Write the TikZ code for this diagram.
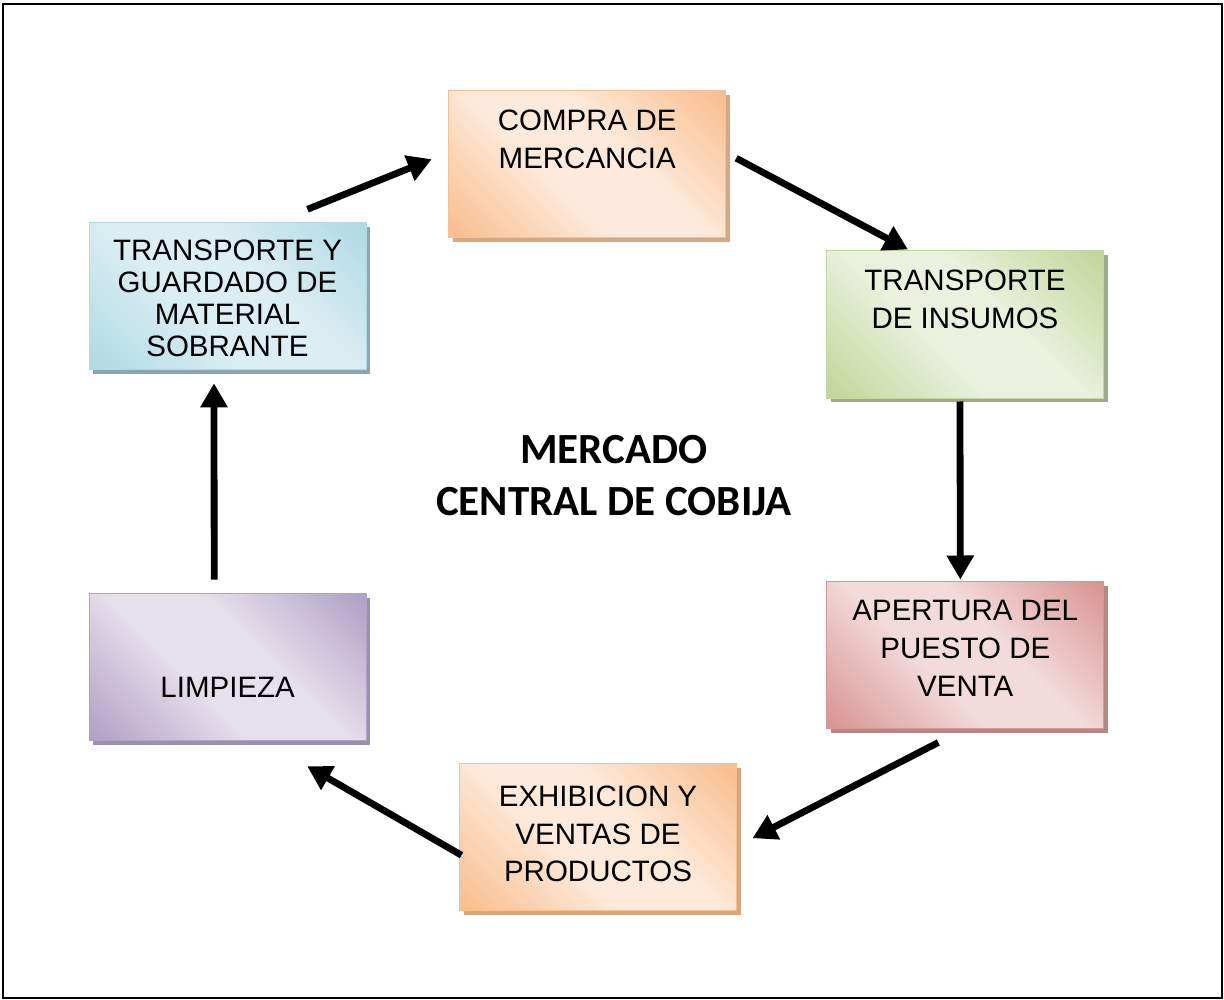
\documentclass[tikz,border=0pt]{standalone}
\usepackage{fontspec}
\setmainfont{Liberation Sans}
\newfontfamily\titlefont{Carlito}
\usetikzlibrary{shadows,arrows.meta,calc}

\definecolor{orDk}{HTML}{F9BF8F}
\definecolor{orLt}{HTML}{FDEADB}
\definecolor{orSh}{HTML}{D3A887}
\definecolor{grDk}{HTML}{C3D69B}
\definecolor{grLt}{HTML}{EBF1DE}
\definecolor{grSh}{HTML}{9EA88C}
\definecolor{blDk}{HTML}{B1DAE5}
\definecolor{blLt}{HTML}{DCEEF3}
\definecolor{blSh}{HTML}{8FA5AC}
\definecolor{rdDk}{HTML}{D99694}
\definecolor{rdLt}{HTML}{F2DCDB}
\definecolor{rdSh}{HTML}{B08886}
\definecolor{puDk}{HTML}{B2A2C7}
\definecolor{puLt}{HTML}{E6E0EC}
\definecolor{puSh}{HTML}{9A92A6}

\colorlet{dk}{orDk}
\colorlet{lt}{orLt}
\pgfdeclarehorizontalshading[dk,lt]{mirror}{100bp}{color(0bp)=(dk); color(16bp)=(dk); color(42bp)=(lt); color(58bp)=(lt); color(84bp)=(dk); color(100bp)=(dk)}

\tikzset{
  box/.style n args={3}{/utils/exec={\colorlet{dk}{#1}\colorlet{lt}{#2}},
    draw=#1, line width=1pt, shading=mirror, shading angle=45,
    drop shadow={shadow xshift=4pt, shadow yshift=-4pt, fill=#3, opacity=1},
    minimum width=277pt, minimum height=147pt, inner sep=0pt},
  lbl/.style={anchor=north, align=center, inner sep=0pt, outer sep=0pt,
    font=\fontsize{29.5}{37.8}\selectfont},
  arr/.style={line width=6.8pt, -{Triangle[length=24pt,width=26pt]}},
}

\begin{document}
\begin{tikzpicture}[x=1pt,y=-1pt]
\useasboundingbox (0,0) rectangle (1224,1000);
\draw[line width=2pt] (2.5,4.5) rectangle (1222,998);

\node[box={orDk}{orLt}{orSh}] (c) at (587.2,164.2) {};
\node[box={grDk}{grLt}{grSh}] (t) at (965,324.5) {};
\node[box={rdDk}{rdLt}{rdSh}] (a) at (965.3,655) {};
\node[box={orDk}{orLt}{orSh}] (e) at (598,837.2) {};
\node[box={puDk}{puLt}{puSh}] (l) at (227.7,667.2) {};
\node[box={blDk}{blLt}{blSh}] (g) at (227.5,296.3) {};

\node[lbl] (ct) at ($(c.north)+(0,19.5)$) {COMPRA DE\\MERCANCIA};
\node[lbl] (tt) at ($(t.north)+(0,19.5)$) {TRANSPORTE\\DE INSUMOS};
\node[lbl] (at) at ($(a.north)+(0,19.5)$) {APERTURA DEL\\PUESTO DE\\VENTA};
\node[lbl] (et) at ($(e.north)+(0,22.5)$) {EXHIBICION Y\\VENTAS DE\\PRODUCTOS};
\node[lbl] (lt) at ($(l.north)+(0,84.5)$) {LIMPIEZA};
\node[lbl, font=\fontsize{29.5}{32}\selectfont] (gt) at ($(g.north)+(0,18)$) {TRANSPORTE Y\\GUARDADO DE\\MATERIAL\\SOBRANTE};

\node[align=center, inner sep=0pt, font=\titlefont\bfseries\fontsize{43}{52}\selectfont] (title) at (614,476) {MERCADO\\CENTRAL DE COBIJA};

\draw[arr] ($(g.north east)+(-59,-13)$) -- ($(c.west)+(-16.5,-5)$);
\draw[arr] ($(c.east)+(10,-6)$) -- ($(t.north)+(-57,-1)$);
\draw[arr] ($(t.south)+(-5,3)$) -- ($(a.north)+(-5,-1.5)$);
\draw[arr] ($(a.south)+(-27,13.5)$) -- ($(e.east)+(15.5,1)$);
\draw[arr] ($(e.west)+(2.5,18)$) -- ($(l.south)+(79.5,25)$);
\draw[arr] ($(l.north)+(-13.5,-13.5)$) -- ($(g.south)+(-13.5,13)$);
\end{tikzpicture}
\end{document}
